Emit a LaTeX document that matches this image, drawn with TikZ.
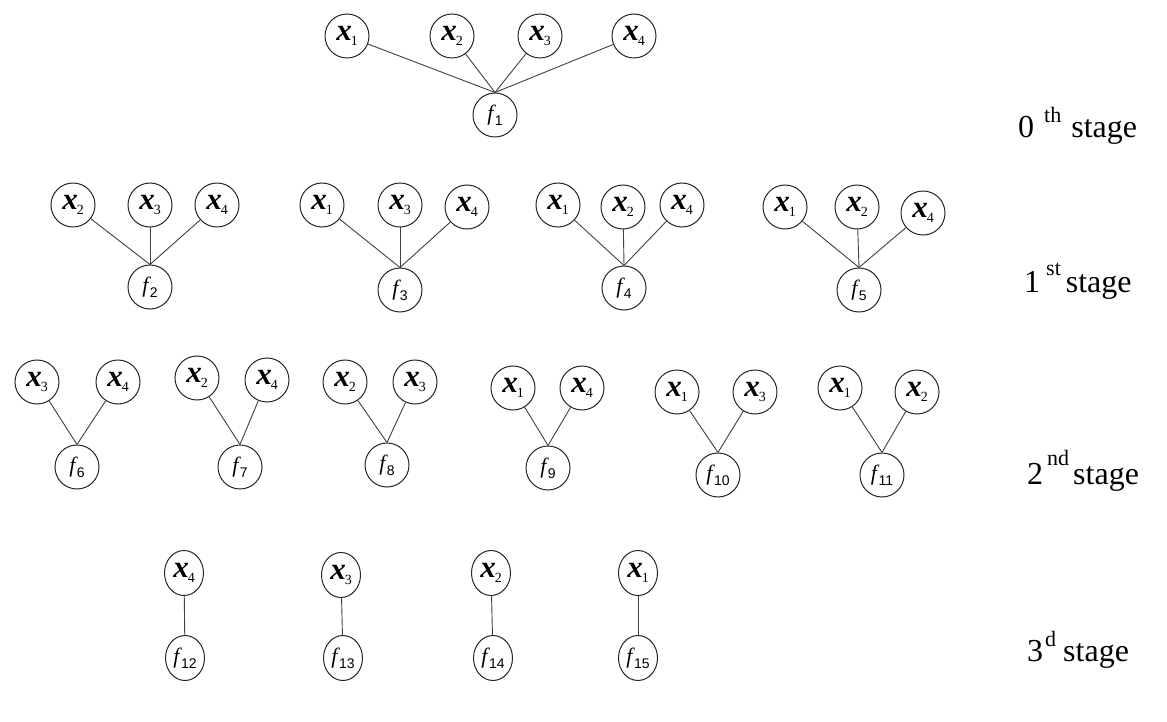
\documentclass[tikz,border=0pt]{standalone}
\usepackage{fontspec}
\setmainfont{Liberation Serif}
\newfontfamily\subsans{Liberation Sans}
\usetikzlibrary{shapes.geometric}
\newcommand{\xl}[1]{\fontsize{31}{31}\selectfont\bfseries\itshape x\hspace{-1pt}\raisebox{-5pt}{\mdseries\upshape\fontsize{14}{14}\selectfont #1}}
\newcommand{\fl}[1]{\fontsize{22}{22}\selectfont\textit{f}\hspace{-1pt}\raisebox{-5pt}{\subsans\fontsize{14}{14}\selectfont #1}}
\newcommand{\stagelabel}[4]{\fontsize{32}{32}\selectfont #1\hspace{#3}\raisebox{#4}{\fontsize{22}{22}\selectfont #2}}
\tikzset{
  xn/.style={circle, draw=black!85, line width=1pt, minimum size=44pt, inner sep=0pt},
  fn/.style={circle, draw=black!85, line width=1pt, minimum size=44pt, inner sep=0pt},
  xe/.style={ellipse, draw=black!85, line width=1pt, minimum width=39pt, minimum height=45pt, inner sep=0pt},
  link/.style={draw=black!75, line width=0.9pt},
  lbl/.style={anchor=base west, inner sep=0pt}
}
\begin{document}
\begin{tikzpicture}[x=1pt, y=-1pt]
\useasboundingbox (0,0) rectangle (1167,722);
% stage 0
\node[xn] (s0x1) at (347,36) {\xl{1}};
\node[xn] (s0x2) at (452,36) {\xl{2}};
\node[xn] (s0x3) at (540,36) {\xl{3}};
\node[xn] (s0x4) at (634,36) {\xl{4}};
\node[fn] (f1) at (495,115) {\fl{1}};
\foreach \n in {s0x1,s0x2,s0x3,s0x4} \draw[link] (\n) -- (f1.north);
% stage 1
\node[xn] (a2) at (73,205) {\xl{2}};
\node[xn] (a3) at (150,205) {\xl{3}};
\node[xn] (a4) at (217,205) {\xl{4}};
\node[fn] (f2) at (150,287) {\fl{2}};
\node[xn] (b1) at (322,205) {\xl{1}};
\node[xn] (b3) at (400,205) {\xl{3}};
\node[xn] (b4) at (467,207) {\xl{4}};
\node[fn] (f3) at (400,290) {\fl{3}};
\node[xn] (c1) at (558,205) {\xl{1}};
\node[xn] (c2) at (623,207) {\xl{2}};
\node[xn] (c4) at (682,205) {\xl{4}};
\node[fn] (f4) at (624,288) {\fl{4}};
\node[xn] (d1) at (785,207) {\xl{1}};
\node[xn] (d2) at (857,207) {\xl{2}};
\node[xn] (d4) at (923,213) {\xl{4}};
\node[fn] (f5) at (859,290) {\fl{5}};
\foreach \n in {a2,a3,a4} \draw[link] (\n) -- (f2.north);
\foreach \n in {b1,b3,b4} \draw[link] (\n) -- (f3.north);
\foreach \n in {c1,c2,c4} \draw[link] (\n) -- (f4.north);
\foreach \n in {d1,d2,d4} \draw[link] (\n) -- (f5.north);
% stage 2
\node[xn] (e3) at (37,382) {\xl{3}};
\node[xn] (e4) at (118,382) {\xl{4}};
\node[fn] (f6) at (77,467) {\fl{6}};
\node[xn] (g2) at (197,378) {\xl{2}};
\node[xn] (g4) at (267,380) {\xl{4}};
\node[fn] (f7) at (240,467) {\fl{7}};
\node[xn] (h2) at (345,382) {\xl{2}};
\node[xn] (h3) at (415,382) {\xl{3}};
\node[fn] (f8) at (387,465) {\fl{8}};
\node[xn] (i1) at (513,388) {\xl{1}};
\node[xn] (i4) at (582,388) {\xl{4}};
\node[fn] (f9) at (548,468) {\fl{9}};
\node[xn] (j1) at (677,392) {\xl{1}};
\node[xn] (j3) at (755,392) {\xl{3}};
\node[fn] (f10) at (718,475) {\fl{10}};
\node[xn] (k1) at (840,388) {\xl{1}};
\node[xn] (k2) at (917,392) {\xl{2}};
\node[fn] (f11) at (882,475) {\fl{11}};
\foreach \n in {e3,e4} \draw[link] (\n) -- (f6.north);
\foreach \n in {g2,g4} \draw[link] (\n) -- (f7.north);
\foreach \n in {h2,h3} \draw[link] (\n) -- (f8.north);
\foreach \n in {i1,i4} \draw[link] (\n) -- (f9.north);
\foreach \n in {j1,j3} \draw[link] (\n) -- (f10.north);
\foreach \n in {k1,k2} \draw[link] (\n) -- (f11.north);
% stage 3
\node[xe] (m4) at (184,573) {\xl{4}};
\node[xe] (f12) at (185,658) {\fl{12}};
\node[xe] (n3) at (341,575) {\xl{3}};
\node[xe] (f13) at (343,658) {\fl{13}};
\node[xe] (p2) at (491,573) {\xl{2}};
\node[xe] (f14) at (493,658) {\fl{14}};
\node[xe] (q1) at (638,573) {\xl{1}};
\node[xe] (f15) at (638,658) {\fl{15}};
\draw[link] (m4) -- (f12);
\draw[link] (n3) -- (f13);
\draw[link] (p2) -- (f14);
\draw[link] (q1) -- (f15);
% stage labels
\node[lbl] (l0) at (1018,138) {\stagelabel{0}{th}{10pt}{15pt}\hspace{10pt}stage};
\node[lbl] (l1) at (1024,292) {\stagelabel{1}{st}{6pt}{17pt}\hspace{5pt}stage};
\node[lbl] (l2) at (1027,484) {\stagelabel{2}{nd}{4pt}{19pt}\hspace{4pt}stage};
\node[lbl] (l3) at (1027,661) {\stagelabel{3}{d}{2pt}{15pt}\hspace{7pt}stage};
\end{tikzpicture}
\end{document}
